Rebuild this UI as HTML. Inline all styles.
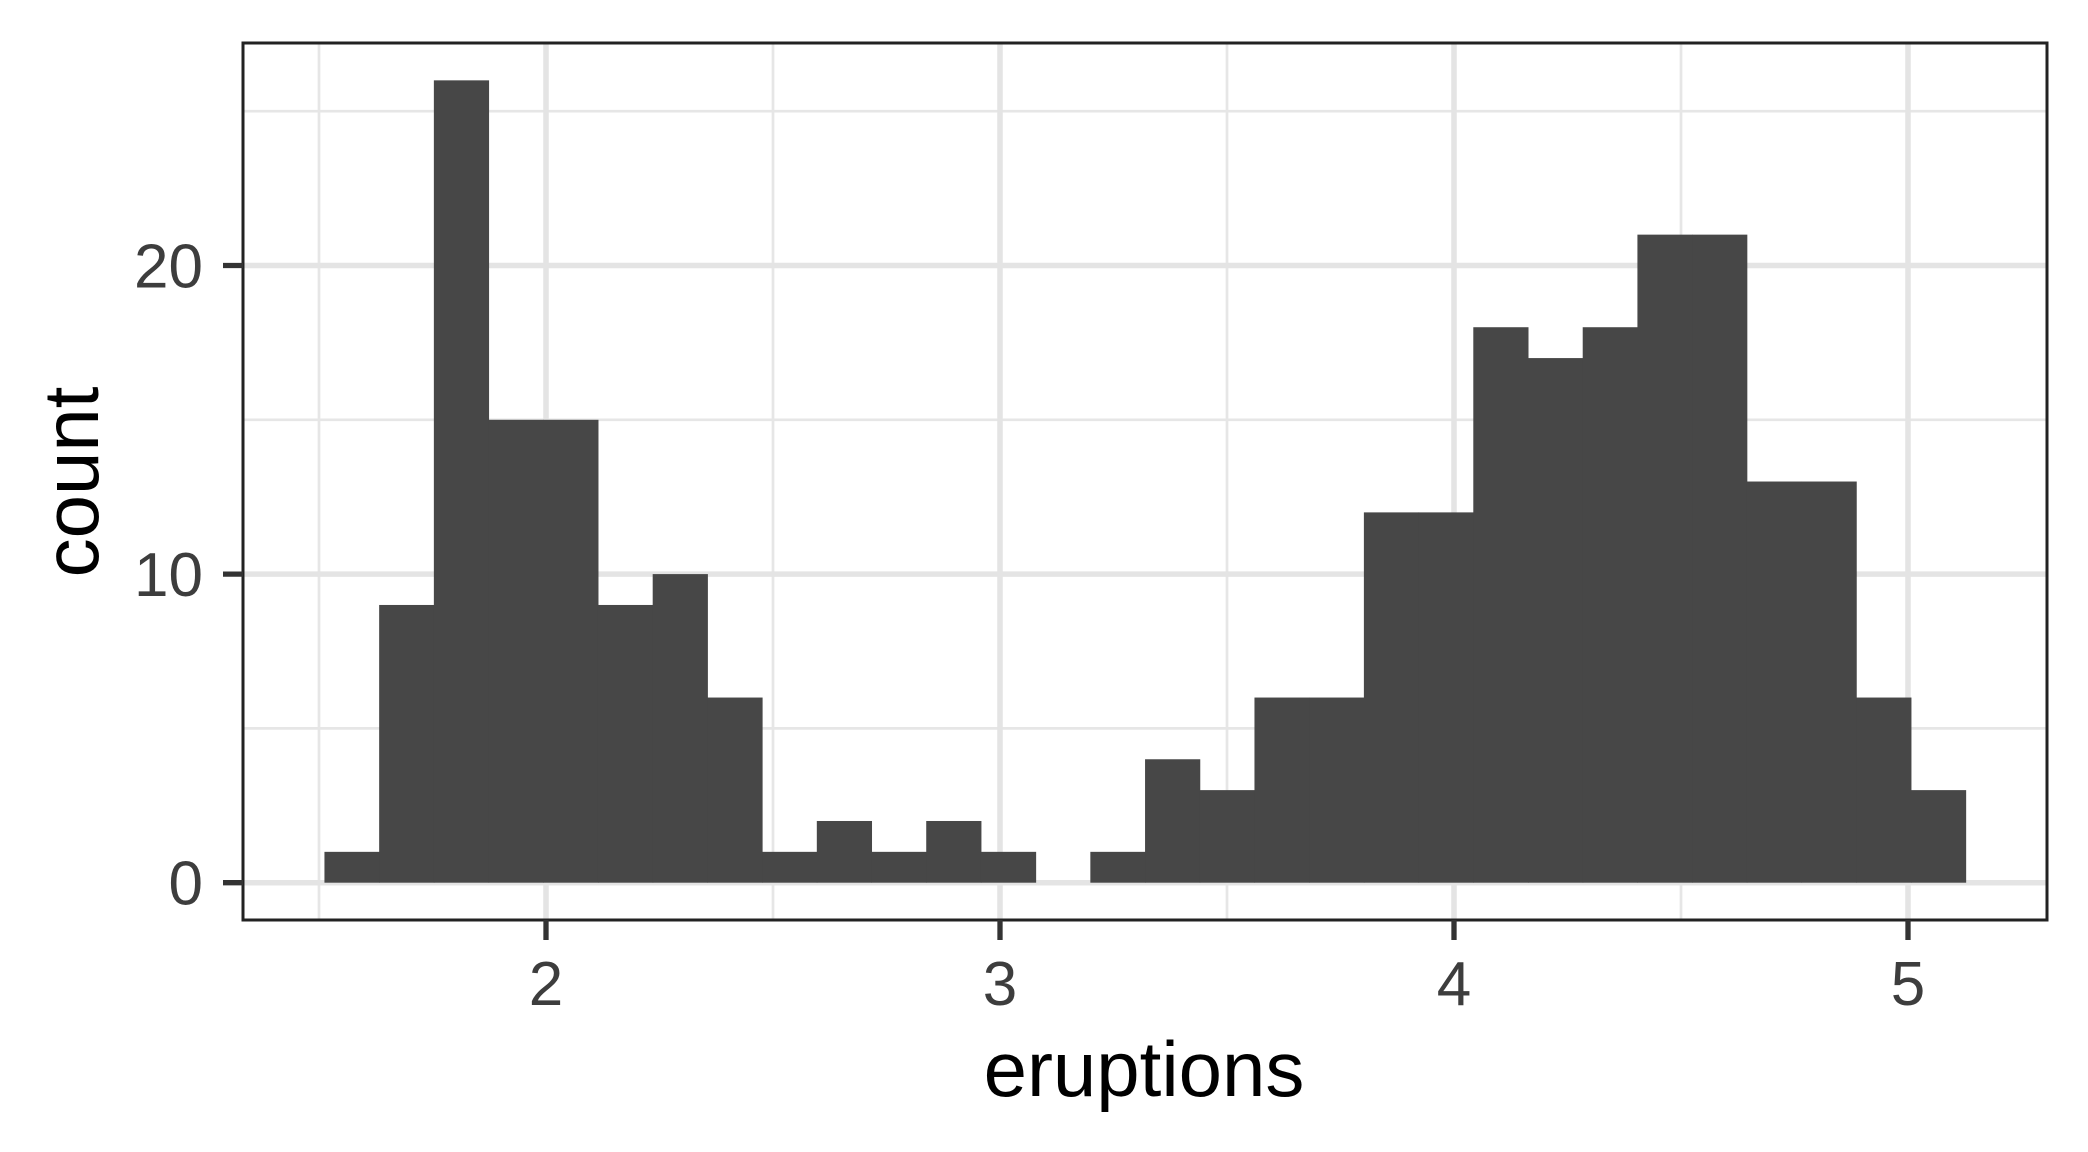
<!DOCTYPE html>
<html><head><meta charset="utf-8"><style>
html,body{margin:0;padding:0;background:#fff;}
svg{display:block;font-family:"Liberation Sans",Arial,sans-serif;}
</style></head><body>
<svg id="chart" width="2088" height="1152" viewBox="0 0 2088 1152" xmlns="http://www.w3.org/2000/svg">
<rect x="0" y="0" width="2088" height="1152" fill="#fff"/>
<g id="grid"></g>
<g id="bars"></g>
<rect x="243" y="43" width="1804" height="877" fill="none" stroke="#222" stroke-width="3"/>
<g id="axes"></g>
<text x="1144" y="1096" font-size="78" text-anchor="middle" fill="#000">eruptions</text>
<text transform="translate(98,482) rotate(-90)" font-size="78" text-anchor="middle" fill="#000">count</text>
</svg>
<script>
const binStart = 1.512;
const binWidth = 0.1205;
const counts = [1,9,26,15,15,9,10,6,1,2,1,2,1,0,1,4,3,6,6,12,12,18,17,18,21,21,13,13,6,3];
const xTicks = [2,3,4,5];
const xMinor = [1.5,2.5,3.5,4.5];
const yTicks = [0,10,20];
const yMinor = [5,15,25];
const yTickLabels = ["0","10","20"];

const NS = "http://www.w3.org/2000/svg";
const PL = 243, PR = 2047, PT = 43, PB = 920;
function xs(v){ return 546 + 454*(v-2); }
function ys(c){ return 882.7 - 30.86*c; }
function mk(tag, attrs, parent){
  const e = document.createElementNS(NS, tag);
  for (const k in attrs) e.setAttribute(k, attrs[k]);
  parent.appendChild(e); return e;
}
const grid = document.getElementById('grid');
const bars = document.getElementById('bars');
const axes = document.getElementById('axes');

yMinor.forEach(v=>{
  const l = mk('line',{x1:PL,x2:PR,y1:ys(v),y2:ys(v),stroke:'#e6e6e6','stroke-width':2.7},grid);
  
  
});
xMinor.forEach(v=>{
  const l = mk('line',{x1:xs(v),x2:xs(v),y1:PT,y2:PB,stroke:'#e6e6e6','stroke-width':2.7},grid);
  
  
});
yTicks.forEach(v=>{
  const l = mk('line',{x1:PL,x2:PR,y1:ys(v),y2:ys(v),stroke:'#e4e4e4','stroke-width':5.5},grid);
  
  
});
xTicks.forEach(v=>{
  const l = mk('line',{x1:xs(v),x2:xs(v),y1:PT,y2:PB,stroke:'#e4e4e4','stroke-width':5.5},grid);
  
  
});

counts.forEach((c,i)=>{
  if (c<=0) return;
  const x0 = xs(binStart + i*binWidth), x1 = xs(binStart + (i+1)*binWidth);
  const r = mk('rect',{x:x0,y:ys(c),width:x1-x0+0.5,height:ys(0)-ys(c),fill:'#474747'},bars);
  
  
});

yTicks.forEach((v,i)=>{
  const t = mk('line',{x1:PL-20,x2:PL,y1:ys(v),y2:ys(v),stroke:'#333','stroke-width':5.3},axes);
  
  
  const tx = mk('text',{x:PL-40,y:ys(v)+22,'font-size':62,'text-anchor':'end',fill:'#3d3d3d'},axes);
  tx.textContent = yTickLabels[i];
  
  
});
xTicks.forEach(v=>{
  const t = mk('line',{x1:xs(v),x2:xs(v),y1:PB,y2:PB+20,stroke:'#333','stroke-width':5.3},axes);
  
  
  const tx = mk('text',{x:xs(v),y:1005,'font-size':62,'text-anchor':'middle',fill:'#3d3d3d'},axes);
  tx.textContent = String(v);
  
  
});
</script>
</body></html>
